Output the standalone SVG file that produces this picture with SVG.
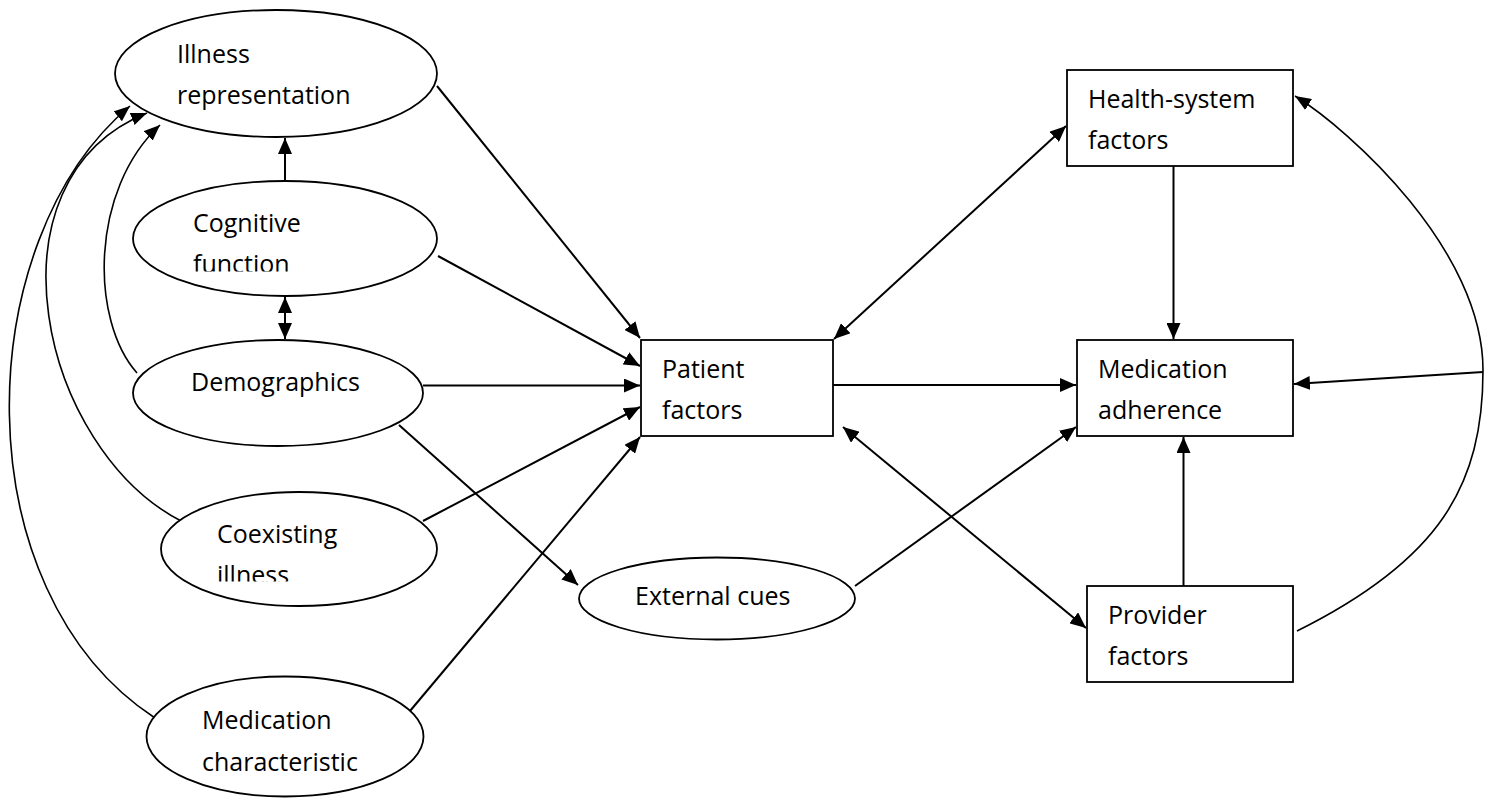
<svg xmlns="http://www.w3.org/2000/svg" width="1492" height="798" viewBox="0 0 1492 798">
<style>
.node{fill:#fff;stroke:#000;stroke-width:1.8}
.lbl{font-family:"Open Sans","Liberation Sans",sans-serif;font-size:25px;fill:#000}
.ln{fill:none;stroke:#000;stroke-width:2}
.cv{fill:none;stroke:#000;stroke-width:1.6}
</style>
<defs>
<marker id="ah" markerUnits="userSpaceOnUse" markerWidth="16" markerHeight="14" refX="16" refY="7" orient="auto-start-reverse" viewBox="0 0 16 14">
<path d="M0,0 L16,7 L0,14 z" fill="#000"/>
</marker>
<marker id="ahs" markerUnits="userSpaceOnUse" markerWidth="16" markerHeight="13" refX="16" refY="6.5" orient="auto" viewBox="0 0 16 13">
<path d="M0,0 L16,6.5 L0,13 z" fill="#000"/>
</marker>
<clipPath id="clipCog"><rect x="130" y="180" width="310" height="91.5"/></clipPath>
<clipPath id="clipCoex"><rect x="158" y="490" width="282" height="91.5"/></clipPath>
</defs>
<rect width="1492" height="798" fill="#fff"/>

<g id="connectors">
<line class="ln" x1="437" y1="86" x2="640" y2="338" marker-end="url(#ah)"/>
<line class="ln" x1="438" y1="256" x2="640" y2="366" marker-end="url(#ah)"/>
<line class="ln" x1="423" y1="385.5" x2="640" y2="385.5" marker-end="url(#ah)"/>
<line class="ln" x1="423" y1="521" x2="640" y2="407" marker-end="url(#ah)"/>
<line class="ln" x1="410" y1="711" x2="640" y2="437" marker-end="url(#ah)"/>
<line class="ln" x1="399" y1="425" x2="578" y2="585" marker-end="url(#ah)"/>
<line class="ln" x1="285" y1="181" x2="285" y2="138" marker-end="url(#ah)"/>
<line class="ln" x1="285" y1="297" x2="285" y2="339" marker-start="url(#ah)" marker-end="url(#ah)"/>
<line class="ln" x1="833" y1="385" x2="1076" y2="385" marker-end="url(#ah)"/>
<line class="ln" x1="834" y1="339" x2="1066" y2="126" marker-start="url(#ah)" marker-end="url(#ah)"/>
<line class="ln" x1="1173.5" y1="166" x2="1173.5" y2="339" marker-end="url(#ah)"/>
<line class="ln" x1="855" y1="586" x2="1076" y2="427" marker-end="url(#ah)"/>
<line class="ln" x1="843" y1="427" x2="1086" y2="628" marker-start="url(#ah)" marker-end="url(#ah)"/>
<line class="ln" x1="1183.5" y1="586" x2="1183.5" y2="437" marker-end="url(#ah)"/>
<line class="ln" x1="1483" y1="372" x2="1294" y2="384" marker-end="url(#ah)"/>
<path class="cv" d="M1297,631 C1440,560 1483,485 1483,370 C1483,250 1350,130 1295,96" marker-end="url(#ahs)"/>
<path class="cv" d="M155,718 C-40,590 -30,240 130,106" marker-end="url(#ahs)"/>
<path class="cv" d="M183,522 C40,450 -20,180 147,113" marker-end="url(#ahs)"/>
<path class="cv" d="M137,373 C90,320 90,190 160,125" marker-end="url(#ahs)"/>
</g>

<g id="illness">
<ellipse class="node" cx="276" cy="73.5" rx="161" ry="63.5"/>
<text class="lbl" x="177" y="63">Illness</text>
<text class="lbl" x="177" y="104">representation</text>
</g>
<g id="cognitive">
<ellipse class="node" cx="285" cy="238.5" rx="152" ry="57.5"/>
<text class="lbl" x="193" y="232">Cognitive</text>
<text class="lbl" x="193" y="273" clip-path="url(#clipCog)">function</text>
</g>
<g id="demographics">
<ellipse class="node" cx="278" cy="393" rx="145" ry="53"/>
<text class="lbl" x="191" y="391">Demographics</text>
</g>
<g id="coexisting">
<ellipse class="node" cx="299" cy="549" rx="138" ry="57"/>
<text class="lbl" x="217" y="543">Coexisting</text>
<text class="lbl" x="217" y="584" clip-path="url(#clipCoex)">illness</text>
</g>
<g id="medchar">
<ellipse class="node" cx="285" cy="736.5" rx="138.5" ry="60"/>
<text class="lbl" x="202" y="729">Medication</text>
<text class="lbl" x="202" y="771">characteristic</text>
</g>
<g id="patient">
<rect class="node" x="641" y="340" width="192" height="96"/>
<text class="lbl" x="662" y="378">Patient</text>
<text class="lbl" x="662" y="419">factors</text>
</g>
<g id="external">
<ellipse class="node" cx="717" cy="598.5" rx="138" ry="41"/>
<text class="lbl" x="635" y="605">External cues</text>
</g>
<g id="health">
<rect class="node" x="1067" y="70" width="226" height="96"/>
<text class="lbl" x="1088" y="108">Health-system</text>
<text class="lbl" x="1088" y="149">factors</text>
</g>
<g id="adherence">
<rect class="node" x="1077" y="340" width="216" height="96"/>
<text class="lbl" x="1098" y="378">Medication</text>
<text class="lbl" x="1098" y="419">adherence</text>
</g>
<g id="provider">
<rect class="node" x="1087" y="586" width="206" height="96"/>
<text class="lbl" x="1108" y="624">Provider</text>
<text class="lbl" x="1108" y="665">factors</text>
</g>
</svg>
